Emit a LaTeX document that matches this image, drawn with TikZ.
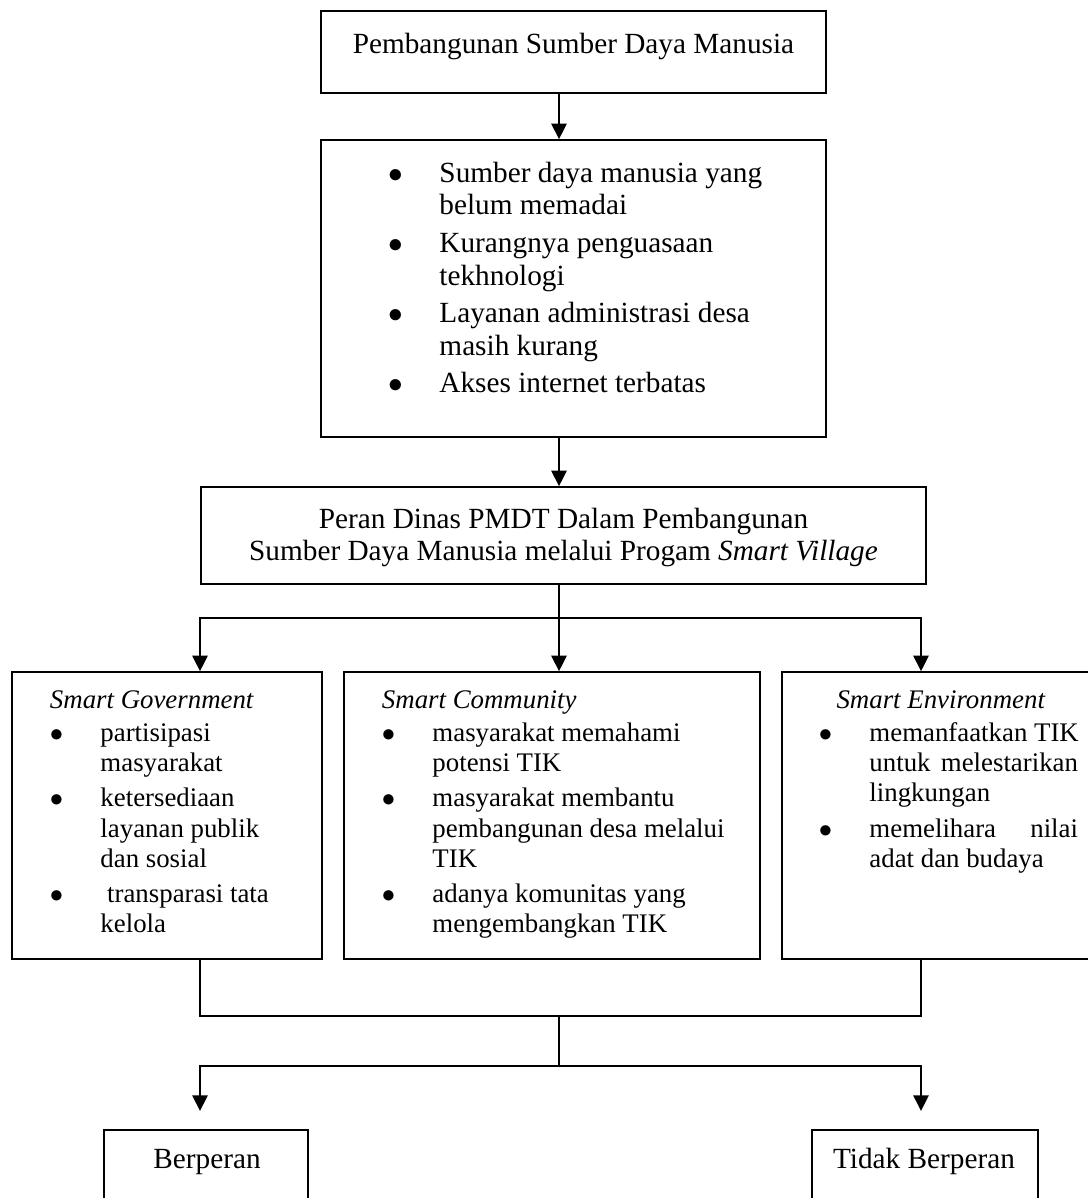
\documentclass[tikz,border=0pt]{standalone}
\usepackage{fontspec}
\setmainfont{Liberation Serif}
\usetikzlibrary{arrows.meta}

\begin{document}
\begin{tikzpicture}[
    x=0.41pt, y=-0.41pt,
    box/.style={draw, line width=0.6pt, inner sep=0pt},
    arr/.style={line width=0.8pt, -{Triangle[width=6.2pt,length=6.4pt]}},
    link/.style={line width=0.6pt},
    big/.style={font=\fontsize{12}{13.5}\selectfont, inner sep=0pt},
    small/.style={font=\fontsize{11}{12.4}\selectfont, inner sep=0pt}
  ]
  \useasboundingbox (0,0) rectangle (1087,1198);

  \node (sdm) [box, minimum width=207.05pt, minimum height=33.62pt] at (573.5,52) {};
  \node (isu) [box, minimum width=207.05pt, minimum height=121.77pt] at (573.5,288.5) {};
  \node (peran) [box, minimum width=297.25pt, minimum height=39.77pt] at (563.5,535.5) {};
  \node (gov) [box, minimum width=127.1pt, minimum height=117.67pt] at (167,815.5) {};
  \node (com) [box, minimum width=170.56pt, minimum height=117.67pt] at (552,815.5) {};
  \node (env) [box, minimum width=130.38pt, minimum height=117.67pt] at (941,815.5) {};
  \node (ya) [box, minimum width=83.64pt, minimum height=53.3pt] at (206,1195) {};
  \node (tidak) [box, minimum width=92.66pt, minimum height=53.3pt] at (925,1195) {};

  \node (sdm-t) [big, anchor=base] at (573.5,53) {Pembangunan Sumber Daya Manusia};
  \node (isu-t) [big, anchor=base west] at (388.5,182) {%
    \begin{tabular}[t]{@{}p{20.7pt}@{}l@{}}
      $\bullet$ & Sumber daya manusia yang\\
               & belum memadai\\[1.8pt]
      $\bullet$ & Kurangnya penguasaan\\
               & tekhnologi\\[1.8pt]
      $\bullet$ & Layanan administrasi desa\\
               & masih kurang\\[1.8pt]
      $\bullet$ & Akses internet terbatas
    \end{tabular}};
  \node (peran-t) [big, anchor=base] at (563.5,528) {%
    \begin{tabular}[t]{@{}c@{}}
      Peran Dinas PMDT Dalam Pembangunan\\
      Sumber Daya Manusia melalui Progam \textit{Smart Village}
    \end{tabular}};
  \node (gov-t) [small, anchor=base west] at (49.5,708) {%
    \begin{tabular}[t]{@{}p{20.7pt}@{}l@{}}
      \multicolumn{2}{@{}l@{}}{\textit{Smart Government}}\\[1.3pt]
      $\bullet$ & partisipasi\\
               & masyarakat\\[2pt]
      $\bullet$ & ketersediaan\\
               & layanan publik\\
               & dan sosial\\[2pt]
      $\bullet$ & \ transparasi tata\\
               & kelola
    \end{tabular}};
  \node (com-t) [small, anchor=base west] at (381.5,708) {%
    \begin{tabular}[t]{@{}p{20.7pt}@{}l@{}}
      \multicolumn{2}{@{}l@{}}{\textit{Smart Community}}\\[1.3pt]
      $\bullet$ & masyarakat memahami\\
               & potensi TIK\\[2pt]
      $\bullet$ & masyarakat membantu\\
               & pembangunan desa melalui\\
               & TIK\\[2pt]
      $\bullet$ & adanya komunitas yang\\
               & mengembangkan TIK
    \end{tabular}};
  \node (env-t) [small, anchor=base west] at (818.5,708) {%
    \begin{tabular}[t]{@{}p{20.7pt}@{}l@{}}
      \multicolumn{2}{@{}l@{}}{\hspace*{7.2pt}\textit{Smart Environment}}\\[1.3pt]
      $\bullet$ & memanfaatkan TIK\\
               & \makebox[85.5pt][s]{untuk melestarikan}\\
               & lingkungan\\[2pt]
      $\bullet$ & \makebox[85.5pt][s]{memelihara nilai}\\
               & adat dan budaya
    \end{tabular}};
  \node (ya-t) [big, anchor=base] at (207,1168) {Berperan};
  \node (tidak-t) [big, anchor=base] at (924,1168) {Tidak Berperan};

  \coordinate (spine) at (559,0);
  \coordinate (lx) at (200,0);
  \coordinate (rx) at (921,0);
  \coordinate (fork) at (559,618);
  \coordinate (join) at (559,1016);
  \coordinate (out) at (559,1066);
  \coordinate (ya-in) at (200,1111);
  \coordinate (tidak-in) at (921,1111);

  \draw[arr] (sdm.south -| spine) -- (isu.north -| spine);
  \draw[arr] (isu.south -| spine) -- (peran.north -| spine);
  \draw[arr] (peran.south -| spine) -- (com.north -| spine);
  \draw[arr] (fork) -| (gov.north -| lx);
  \draw[arr] (fork) -| (env.north -| rx);
  \draw[link] (gov.south -| lx) |- (join) -| (env.south -| rx);
  \draw[link] (join) -- (out);
  \draw[arr] (out) -| (ya-in);
  \draw[arr] (out) -| (tidak-in);
\end{tikzpicture}
\end{document}
